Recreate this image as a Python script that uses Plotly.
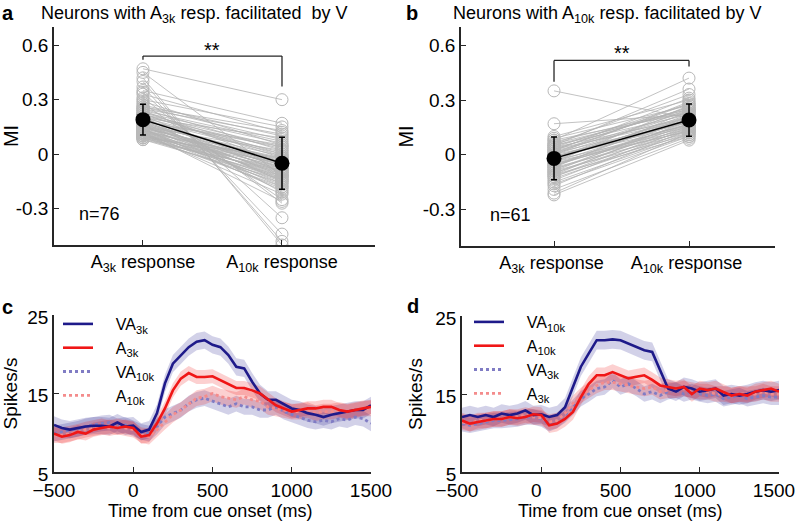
import plotly.graph_objects as go

FONT = "Liberation Sans, Arial, sans-serif"
AX = "#262626"

# ---------------- panel a data ----------------
mi_categories_a = ["A<sub>3k</sub> response", "A<sub>10k</sub> response"]
a_mi_a3k = [0.47, 0.45, 0.42, 0.40, 0.37, 0.35, 0.34, 0.33, 0.31, 0.30, 0.29, 0.28, 0.27, 0.26, 0.26,
            0.25, 0.25, 0.24, 0.24, 0.23, 0.23, 0.22, 0.22, 0.21, 0.21, 0.21, 0.20, 0.20, 0.20, 0.19,
            0.19, 0.19, 0.18, 0.18, 0.18, 0.17, 0.17, 0.17, 0.16, 0.16, 0.16, 0.16, 0.15, 0.15, 0.15,
            0.15, 0.14, 0.14, 0.14, 0.14, 0.13, 0.13, 0.13, 0.13, 0.12, 0.12, 0.12, 0.12, 0.11, 0.11,
            0.11, 0.11, 0.10, 0.10, 0.10, 0.10, 0.09, 0.09, 0.09, 0.09, 0.08, 0.08, 0.12, 0.15, 0.18, 0.22]
a_mi_a10k = [0.30, -0.12, -0.50, -0.48, -0.44, 0.17, -0.35, 0.12, -0.27, 0.15, 0.05, -0.25, 0.10, 0.13, 0.08,
             0.02, 0.11, -0.05, 0.07, 0.00, 0.06, -0.02, 0.04, -0.08, 0.03, -0.21, 0.01, -0.10, 0.09, -0.04,
             -0.15, 0.00, -0.06, -0.12, 0.05, -0.09, -0.03, -0.14, -0.07, -0.01, -0.11, -0.18, -0.05, -0.13, 0.02,
             -0.08, -0.16, -0.02, -0.10, -0.20, -0.06, -0.12, -0.04, -0.17, -0.09, -0.14, -0.03, -0.19, -0.07, -0.11,
             -0.15, -0.22, -0.08, -0.13, -0.05, -0.18, -0.10, -0.16, -0.02, -0.12, -0.09, -0.14, -0.26, -0.06, 0.04, -0.01]
a_mean = [0.19, -0.05]
a_sd = [0.085, 0.143]

# ---------------- panel b data ----------------
mi_categories_b = ["A<sub>3k</sub> response ", "A<sub>10k</sub> response "]
b_mi_a3k = [0.35, 0.17, 0.10, 0.09, 0.08, 0.07, 0.06, 0.06, 0.05, 0.05, 0.04, 0.04, 0.03, 0.03, 0.02,
            0.02, 0.01, 0.01, 0.00, 0.00, 0.00, -0.01, -0.01, -0.02, -0.02, -0.03, -0.03, -0.04, -0.04, -0.05,
            -0.05, -0.06, -0.06, -0.07, -0.07, -0.08, -0.08, -0.09, -0.09, -0.10, -0.10, -0.11, -0.11, -0.12, -0.12,
            -0.13, -0.14, -0.15, -0.16, -0.17, -0.19, -0.21, -0.22, 0.08, 0.03, -0.02, -0.06, 0.01, -0.04, 0.05, -0.01]
b_mi_a10k = [0.20, 0.22, 0.30, 0.27, 0.42, 0.25, 0.33, 0.24, 0.36, 0.22, 0.28, 0.20, 0.26, 0.19, 0.31,
             0.21, 0.24, 0.18, 0.23, 0.16, 0.29, 0.20, 0.15, 0.25, 0.18, 0.22, 0.14, 0.19, 0.27, 0.17,
             0.13, 0.21, 0.16, 0.24, 0.12, 0.18, 0.15, 0.20, 0.11, 0.17, 0.14, 0.19, 0.10, 0.16, 0.13,
             0.12, 0.15, 0.11, 0.10, 0.14, 0.09, 0.12, 0.08, 0.23, 0.26, 0.21, 0.17, 0.28, 0.13, 0.25, 0.18]
b_mean = [-0.02, 0.19]
b_sd = [0.117, 0.088]

mi_ticks = [-0.3, 0, 0.3, 0.6]
mi_ticktext = ["-0.3", "0", "0.3", "0.6"]

# ---------------- panels c / d data (spikes/s, 50 ms bins) ----------------
time_ms = list(range(-500, 1501, 50))
c_va3k = [11.0, 10.6, 10.4, 10.6, 10.8, 10.9, 10.9, 10.8, 11.3, 10.8, 10.9, 10.1, 10.4, 12.5, 16.3, 18.8, 19.9,
          20.9, 21.6, 21.8, 21.2, 20.9, 19.9, 18.4, 18.2, 16.5, 15.0, 14.2, 14.2, 13.7, 13.1, 12.9, 12.5,
          12.3, 12.0, 12.3, 12.5, 12.7, 12.9, 12.9, 13.5]
c_a3k = [9.9, 9.5, 9.7, 10.1, 9.9, 10.4, 10.6, 10.8, 10.6, 10.8, 10.6, 9.5, 9.7, 11.2, 13.1, 15.4, 16.9,
         17.6, 17.1, 17.1, 17.2, 16.7, 16.1, 15.7, 15.7, 15.4, 15.0, 14.2, 13.5, 13.1, 12.7, 12.9, 13.1,
         13.1, 13.3, 13.3, 12.9, 12.7, 12.9, 13.1, 13.3]
c_va10k = [9.9, 10.1, 10.3, 10.5, 10.8, 11.0, 11.2, 11.3, 10.8, 11.0, 10.6, 10.1, 9.9, 10.8, 12.0, 12.5, 12.9,
           13.7, 14.2, 14.4, 14.0, 13.7, 13.3, 13.7, 13.3, 13.3, 12.9, 12.9, 13.3, 12.7, 12.3, 12.0, 11.6,
           11.4, 11.6, 11.4, 11.8, 11.6, 12.0, 11.8, 11.2]
c_a10k = [9.7, 9.7, 9.9, 10.1, 10.4, 10.6, 10.8, 10.6, 10.8, 10.6, 10.4, 9.7, 9.5, 10.4, 11.4, 12.3, 12.9,
          13.7, 14.4, 14.6, 15.0, 14.6, 14.4, 14.2, 14.6, 14.2, 14.0, 13.3, 13.1, 12.9, 12.7, 12.7, 12.9,
          12.5, 12.7, 12.7, 12.9, 12.7, 12.9, 13.1, 13.1]
c_sem = [1.1, 0.9, 1.0, 1.0]

d_va10k = [12.05, 12.3, 12.05, 12.3, 12.05, 12.5, 12.3, 12.5, 12.9, 12.3, 12.4, 12.05, 12.3, 13.3, 15.9, 18.5,
           20.2, 21.9, 21.9, 22.0, 21.9, 21.5, 21.0, 20.6, 20.4, 18.0, 15.7, 15.3, 15.9, 15.7, 15.3, 15.5,
           15.7, 14.8, 15.0, 14.8, 15.0, 15.3, 15.5, 15.3, 15.5]
d_a10k = [11.6, 11.2, 11.4, 11.6, 11.8, 11.8, 12.05, 11.9, 12.05, 12.4, 12.3, 11.0, 11.2, 11.8, 12.7, 14.6,
          16.3, 17.4, 17.4, 17.8, 17.4, 17.0, 17.2, 17.4, 16.8, 16.1, 15.9, 15.7, 15.9, 15.0, 15.7, 15.5,
          15.7, 15.3, 14.8, 15.0, 14.8, 15.3, 15.5, 15.7, 15.3]
d_va3k = [11.2, 11.0, 11.2, 11.4, 11.6, 11.6, 11.7, 11.8, 12.05, 12.05, 11.8, 11.2, 11.6, 12.3, 13.3, 14.4,
          15.0, 15.7, 15.9, 16.75, 15.9, 16.3, 15.7, 15.0, 15.3, 14.8, 15.3, 15.5, 15.0, 15.3, 15.0, 14.8,
          15.0, 14.4, 14.6, 14.8, 14.4, 14.6, 14.8, 14.6, 14.6]
d_a3k = [11.4, 11.2, 11.6, 11.6, 11.8, 11.8, 12.05, 12.05, 12.3, 12.05, 11.95, 11.4, 11.6, 12.5, 13.8, 14.8,
         15.5, 16.1, 16.5, 16.5, 16.3, 16.1, 15.9, 15.7, 15.9, 15.3, 15.5, 15.5, 15.7, 15.5, 15.3, 15.3,
         15.0, 15.0, 14.8, 15.0, 15.0, 15.0, 15.3, 15.0, 15.0]
d_sem = [1.2, 1.0, 1.0, 1.0]

time_ticks = [-500, 0, 500, 1000, 1500]
time_ticktext = ["\u2212500", "0", "500", "1000", "1500"]
rate_ticks = [5, 15, 25]

NAVY = "rgb(30,26,138)"
RED = "rgb(240,22,22)"
NAVY_DOT = "rgb(128,124,196)"
RED_DOT = "rgb(244,140,140)"
NAVY_BAND = "rgba(30,26,138,0.2)"
RED_BAND = "rgba(240,22,22,0.2)"

fig = go.Figure()


def add_pairs(cats, v1, v2, xa, ya):
    xs, ys = [], []
    for p, q in zip(v1, v2):
        xs += [cats[0], cats[1], None]
        ys += [p, q, None]
    fig.add_trace(go.Scatter(x=xs, y=ys, mode="lines", line=dict(color="#b3b3b3", width=0.8),
                             xaxis=xa, yaxis=ya, showlegend=False, hoverinfo="skip"))
    fig.add_trace(go.Scatter(x=[cats[0]] * len(v1) + [cats[1]] * len(v2), y=list(v1) + list(v2),
                             mode="markers",
                             marker=dict(symbol="circle-open", size=12, color="#b8b8b8", line=dict(width=1)),
                             xaxis=xa, yaxis=ya, showlegend=False))


def add_mean(cats, mean, sd, xa, ya):
    fig.add_trace(go.Scatter(x=cats, y=mean, mode="lines+markers",
                             line=dict(color="black", width=1.5),
                             marker=dict(size=15, color="black"),
                             error_y=dict(type="data", array=sd, visible=True, color="black",
                                          thickness=1.5, width=3),
                             xaxis=xa, yaxis=ya, showlegend=False))


add_pairs(mi_categories_a, a_mi_a3k, a_mi_a10k, "x", "y")
add_mean(mi_categories_a, a_mean, a_sd, "x", "y")
add_pairs(mi_categories_b, b_mi_a3k, b_mi_a10k, "x2", "y2")
add_mean(mi_categories_b, b_mean, b_sd, "x2", "y2")


def add_psth(series, xa, ya, legend):
    for vals, sem, band, name, color, dash, rank in series:
        up = [v + sem for v in vals]
        lo = [v - sem for v in vals]
        fig.add_trace(go.Scatter(x=time_ms + time_ms[::-1], y=up + lo[::-1], fill="toself",
                                 fillcolor=band, line=dict(width=0), mode="lines",
                                 xaxis=xa, yaxis=ya, showlegend=False, hoverinfo="skip"))
    for vals, sem, band, name, color, dash, rank in sorted(series, key=lambda s: s[5] == "solid"):
        fig.add_trace(go.Scatter(x=time_ms, y=vals, mode="lines", name=name,
                                 line=dict(color=color, width=2.6 if dash == "solid" else 2.8, dash=dash),
                                 xaxis=xa, yaxis=ya, legend=legend, legendrank=rank))


sp = "\u00a0\u00a0\u00a0\u00a0"
add_psth([
    (c_va3k, c_sem[0], NAVY_BAND, sp + "VA<sub>3k</sub>", NAVY, "solid", 1),
    (c_a3k, c_sem[1], RED_BAND, sp + "A<sub>3k</sub>", RED, "solid", 2),
    (c_va10k, c_sem[2], NAVY_BAND, sp + "VA<sub>10k</sub>", NAVY_DOT, "dot", 3),
    (c_a10k, c_sem[3], RED_BAND, sp + "A<sub>10k</sub>", RED_DOT, "dot", 4),
], "x3", "y3", "legend")
add_psth([
    (d_va10k, d_sem[0], NAVY_BAND, sp + "VA<sub>10k</sub>", NAVY, "solid", 1),
    (d_a10k, d_sem[1], RED_BAND, sp + "A<sub>10k</sub>", RED, "solid", 2),
    (d_va3k, d_sem[2], NAVY_BAND, sp + "VA<sub>3k</sub>", NAVY_DOT, "dot", 3),
    (d_a3k, d_sem[3], RED_BAND, sp + "A<sub>3k</sub>", RED_DOT, "dot", 4),
], "x4", "y4", "legend2")

W, H = 796, 522


def px(x):
    return x / W


def py(y):
    return 1 - y / H


axis_common = dict(showline=True, linecolor=AX, linewidth=1.5, ticks="inside", ticklen=5,
                   tickcolor=AX, tickwidth=1.2, showgrid=False, zeroline=False, automargin=False,
                   layer="above traces", ticklabeloverflow="allow",
                   tickfont=dict(family=FONT, size=19, color="black"))
cat_font = dict(family=FONT, size=18, color="black")

lay = dict(
    template="none",
    width=W, height=H, margin=dict(l=0, r=0, t=0, b=0, autoexpand=False),
    paper_bgcolor="white", plot_bgcolor="white",
    font=dict(family=FONT, color="black"),
    xaxis=dict(domain=[px(54), px(375)], anchor="y", type="category", range=[-0.64, 1.669],
               **{**axis_common, "tickfont": cat_font}),
    yaxis=dict(domain=[py(245), py(27)], anchor="x", range=[-0.5, 0.7], tickvals=mi_ticks,
               ticktext=mi_ticktext, title=dict(text="MI", font=dict(size=20), standoff=4), **axis_common),
    xaxis2=dict(domain=[px(461), px(775)], anchor="y2", type="category", range=[-0.689, 1.637],
                **{**axis_common, "tickfont": cat_font}),
    yaxis2=dict(domain=[py(246), py(27)], anchor="x2", range=[-0.5, 0.7], tickvals=mi_ticks,
                ticktext=mi_ticktext, title=dict(text="MI", font=dict(size=20), standoff=4), **axis_common),
    xaxis3=dict(domain=[px(54), px(371)], anchor="y3", range=[-500, 1500], tickvals=time_ticks,
                ticktext=time_ticktext, **axis_common),
    yaxis3=dict(domain=[py(472), py(315)], anchor="x3", range=[5, 25], tickvals=rate_ticks,
                ticklabelshift=2,
                title=dict(text="Spikes/s", font=dict(size=19), standoff=8), **axis_common),
    xaxis4=dict(domain=[px(462), px(779)], anchor="y4", range=[-500, 1500], tickvals=time_ticks,
                ticktext=time_ticktext, ticklabelshift=-5, **axis_common),
    yaxis4=dict(domain=[py(472), py(316)], anchor="x4", range=[5, 25], tickvals=rate_ticks,
                ticklabelshift=2,
                title=dict(text="Spikes/s", font=dict(size=19), standoff=8), **axis_common),
    legend=dict(x=px(58), y=py(307), xanchor="left", yanchor="top", bgcolor="rgba(0,0,0,0)",
                font=dict(family=FONT, size=16), tracegroupgap=0, itemwidth=30),
    legend2=dict(x=px(469), y=py(305), xanchor="left", yanchor="top", bgcolor="rgba(0,0,0,0)",
                 font=dict(family=FONT, size=16), tracegroupgap=0, itemwidth=30),
)
fig.update_layout(**lay)

ann = [
    dict(text="<b>a</b>", x=px(1), y=py(1), xa="left", ya="top", size=20),
    dict(text="<b>b</b>", x=px(405), y=py(1), xa="left", ya="top", size=20),
    dict(text="<b>c</b>", x=px(1), y=py(295), xa="left", ya="top", size=20),
    dict(text="<b>d</b>", x=px(406), y=py(294), xa="left", ya="top", size=20),
    dict(text="Neurons with A<sub>3k</sub> resp. facilitated \u00a0by V", x=px(194), y=py(2),
         xa="center", ya="top", size=18),
    dict(text="Neurons with A<sub>10k</sub> resp. facilitated by V", x=px(607), y=py(2),
         xa="center", ya="top", size=18),
    dict(text="n=76", x=px(100), y=py(214), xa="center", ya="middle", size=18),
    dict(text="n=61", x=px(510), y=py(215), xa="center", ya="middle", size=18),
    dict(text="Time from cue onset (ms)", x=px(210), y=0, xa="center", ya="bottom", size=18),
    dict(text="Time from cue onset (ms)", x=px(620), y=0, xa="center", ya="bottom", size=18),
]
for a in ann:
    fig.add_annotation(xref="paper", yref="paper", showarrow=False, xanchor=a["xa"], yanchor=a["ya"],
                       font=dict(family=FONT, color="black", size=a["size"]),
                       text=a["text"], x=a["x"], y=a["y"], borderpad=0)


def bracket(xa, ya, top, left_bottom, right_bottom, star_y):
    for x0, y0, x1, y1 in [(0, top, 1, top), (0, left_bottom, 0, top), (1, right_bottom, 1, top)]:
        fig.add_shape(type="line", xref=xa, yref=ya, x0=x0, y0=y0, x1=x1, y1=y1,
                      line=dict(color=AX, width=1.3))
    fig.add_annotation(xref=xa, yref=ya, x=0.5, y=star_y, text="**", showarrow=False,
                       font=dict(family=FONT, size=20, color="black"))


bracket("x", "y", 0.54, 0.52, 0.372, 0.575)
bracket("x2", "y2", 0.517, 0.40, 0.483, 0.555)

fig.write_html("out.html", config={"displayModeBar": False},
               post_script="document.body.style.margin='0px';document.body.style.overflow='hidden';")
